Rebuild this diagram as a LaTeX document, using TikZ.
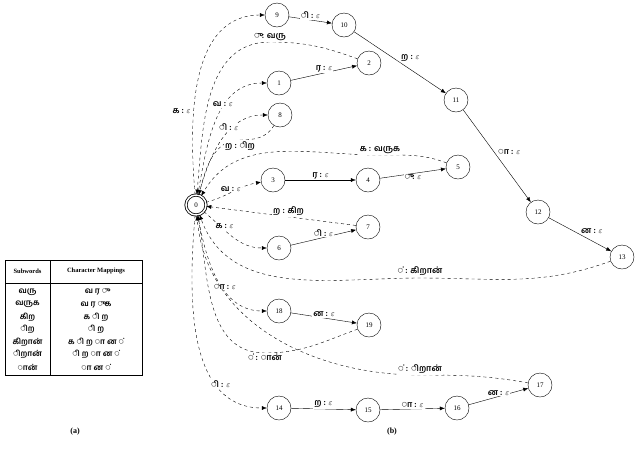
\documentclass[tikz,border=0pt]{standalone}
\usepackage{fontspec}
\setmainfont{Liberation Serif}
\newfontfamily\tam[Script=Tamil]{Hind Madurai}
\usetikzlibrary{arrows.meta}
\newcommand{\eps}{$\varepsilon$}
\tikzset{
 st/.style={circle,draw,minimum size=24pt,inner sep=0pt,font=\fontsize{7}{8}\selectfont},
 fin/.style={st,double,double distance=1.5pt,thick,minimum size=20pt},
 e/.style={-{Latex[length=5pt,width=4pt]},thin},
 d/.style={e,dashed},
 lb/.style={font=\tam\bfseries\fontsize{8.5}{10}\selectfont,inner sep=1pt,fill=white}
}
\begin{document}
\begin{tikzpicture}[x=1pt,y=-1pt]
\useasboundingbox (0,0) rectangle (640,467);
\node[fin] (0) at (196,205) {0};
\foreach \n/\x/\y in {9/277/15,10/344/25,2/369/63,1/279/83,11/456/100,8/280/115,5/458/167,3/273/180,4/368/180,12/538/212,7/368/227,6/279/248,13/622/257,18/279/311,19/369/325,17/540/385,14/279/408,15/368/410,16/457/408}
  \node[st] (\n) at (\x,\y) {\n};
% chain 9
\draw[d] (0) to[out=95,in=180] node[lb,pos=0.35,left=2pt] {க : \eps} (9);
\draw[e] (9) -- node[lb,above] {ி : \eps} (10);
\draw[e] (10) -- node[lb,above right] {ற : \eps} (11);
\draw[e] (11) -- node[lb,above right] {ா : \eps} (12);
\draw[e] (12) -- node[lb,above right] {ன : \eps} (13);
\draw[d] (13) to[out=200,in=0] (420,278) node[lb,above=1pt] {் : கிறான்} to[out=180,in=-70] (0);
% chain 1
\draw[d] (0) to[out=80,in=180] node[lb,pos=0.6,above] {வ : \eps} (1);
\draw[e] (1) -- node[lb,above] {ர : \eps} (2);
\draw[d] (2) to[out=160,in=0] (270,42) node[lb,above] {ு : வரு} to[out=180,in=85] (0);
% chain 8
\draw[d] (0) to[out=75,in=180] node[lb,pos=0.6,above] {ி : \eps} (8);
\draw[d] (8) to[out=-120,in=0] (240,140) node[lb,below] {ற : ிற} to[out=180,in=75] (0);
% chain 3
\draw[d] (0) to[out=15,in=190] node[lb,pos=0.45,above] {வ : \eps} (3);
\draw[e] (3) -- node[lb,above] {ர : \eps} (4);
\draw[e] (4) -- node[lb,below] {ு : \eps} (5);
\draw[d] (5) to[out=160,in=0] (380,155) node[lb,above] {க : வருக} to[out=180,in=60] (0);
% chain 6
\draw[d] (0) to[out=-40,in=180] node[lb,pos=0.35,above] {க : \eps} (6);
\draw[e] (6) -- node[lb,above] {ி : \eps} (7);
\draw[d] (7) -- node[lb,above,pos=0.45] {ற : கிற} (0);
% chain 18
\draw[d] (0) to[out=-80,in=180] node[lb,pos=0.6,above] {ா : \eps} (18);
\draw[e] (18) -- node[lb,above] {ன : \eps} (19);
\draw[d] (19) to[out=-160,in=0] (265,353) node[lb,below] {் : ான்} to[out=180,in=-80] (0);
% chain 14
\draw[d] (0) to[out=-95,in=180] node[lb,pos=0.75,above] {ி : \eps} (14);
\draw[e] (14) -- node[lb,above] {ற : \eps} (15);
\draw[e] (15) -- node[lb,above] {ா : \eps} (16);
\draw[e] (16) -- node[lb,above] {ன : \eps} (17);
\draw[d] (17) to[out=170,in=0] (420,375) node[lb,above] {் : ிறான்} to[out=180,in=-85] (0);
% table
\draw[thick] (5,260) rectangle (142,375);
\draw[thick] (5,283) -- (142,283);
\draw[thick] (50,260) -- (50,375);
\node[font=\bfseries\fontsize{6.5}{8}\selectfont] at (27.5,271) {Subwords};
\node[font=\bfseries\fontsize{6.5}{8}\selectfont] at (96,271) {Character Mappings};
\foreach \i/\a/\b in {0/வரு/வ ர ு,1/வருக/வ ர ு க,2/கிற/க ி ற,3/ிற/ி ற,4/கிறான்/க ி ற ா ன ்,5/ிறான்/ி ற ா ன ்,6/ான்/ா ன ்}{
  \node[font=\tam\bfseries\fontsize{8}{9}\selectfont] at (27.5,292+\i*12.5) {\a};
  \node[font=\tam\bfseries\fontsize{8}{9}\selectfont] at (96,292+\i*12.5) {\b};
}
\node[font=\bfseries\fontsize{8}{9}\selectfont] (la) at (75,432) {(a)};
\node[font=\bfseries\fontsize{8}{9}\selectfont] (lbb) at (392,432) {(b)};
\end{tikzpicture}
\end{document}
